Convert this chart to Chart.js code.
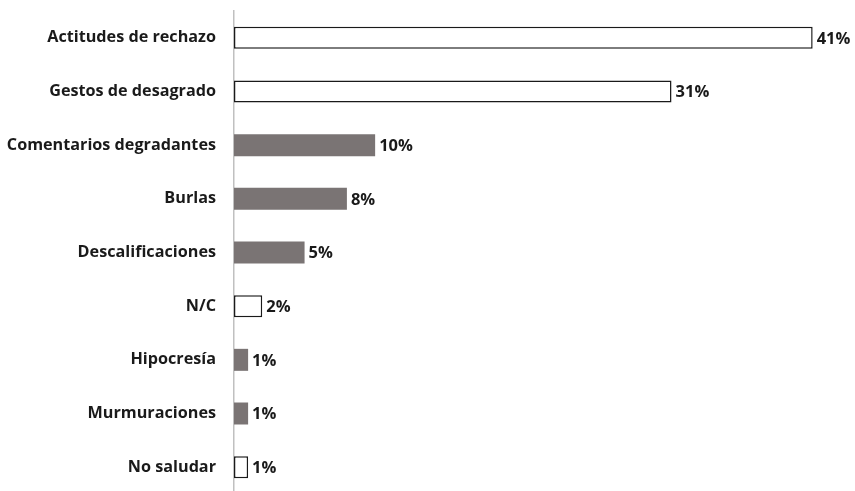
<!DOCTYPE html>
<html>
<head>
<meta charset="utf-8">
<script src="https://cdn.jsdelivr.net/npm/chart.js@4/dist/chart.umd.min.js"></script>
<style>
  html, body { margin: 0; padding: 0; background: #fff; overflow: hidden; }
  #wrap { width: 855px; height: 494px; position: relative; }
</style>
</head>
<body>
<div id="wrap"><canvas id="chart"></canvas></div>
<script>
// categorias y porcentajes
const categorias = [
    'Actitudes de rechazo',
    'Gestos de desagrado',
    'Comentarios degradantes',
    'Burlas',
    'Descalificaciones',
    'N/C',
    'Hipocresía',
    'Murmuraciones',
    'No saludar'
];
const porcentajes = [41, 31, 10, 8, 5, 2, 1, 1, 1];
// true = barra gris, false = barra blanca con borde
const esGris = [false, false, true, true, true, false, true, true, false];

const FONT = "'Open Sans', sans-serif";

// etiquetas de valor al final de cada barra
const etiquetasValor = {
    id: 'etiquetasValor',
    afterDatasetsDraw(chart) {
        const ctx = chart.ctx;
        const meta = chart.getDatasetMeta(0);
        ctx.save();
        ctx.font = 'bold 16.5px ' + FONT;
        ctx.fillStyle = '#1a1a1a';
        ctx.textBaseline = 'middle';
        ctx.textAlign = 'left';
        meta.data.forEach((bar, i) => {
            ctx.fillText(porcentajes[i] + '%', bar.x + 4, bar.y + 1);
        });
        ctx.restore();
    }
};

new Chart(document.getElementById('chart'), {
    type: 'bar',
    data: {
        labels: categorias,
        datasets: [{
            data: porcentajes,
            backgroundColor: esGris.map(g => g ? '#7a7474' : '#ffffff'),
            borderColor: esGris.map(g => g ? '#7a7474' : '#1a1a1a'),
            borderWidth: esGris.map(g => g ? 0 : 1.5),
            borderSkipped: false,
            barPercentage: 0.82,
            categoryPercentage: 0.5
        }]
    },
    options: {
        indexAxis: 'y',
        responsive: true,
        maintainAspectRatio: false,
        animation: false,
        layout: { padding: { top: 11, right: 0, bottom: 0, left: 0 } },
        plugins: {
            legend: { display: false },
            tooltip: { enabled: false }
        },
        scales: {
            x: {
                display: false,
                min: 0,
                max: 44
            },
            y: {
                afterFit: (scale) => {
                    scale.width = 234;
                    scale.paddingTop = 0;
                    scale.paddingBottom = 0;
                },
                grid: { display: false, drawTicks: false },
                border: { display: true, color: '#c0c0c0', width: 1.5 },
                ticks: {
                    padding: 18,
                    color: '#1a1a1a',
                    font: { family: FONT, size: 16.2, weight: 'bold' }
                }
            }
        }
    },
    plugins: [etiquetasValor]
});
</script>
</body>
</html>
